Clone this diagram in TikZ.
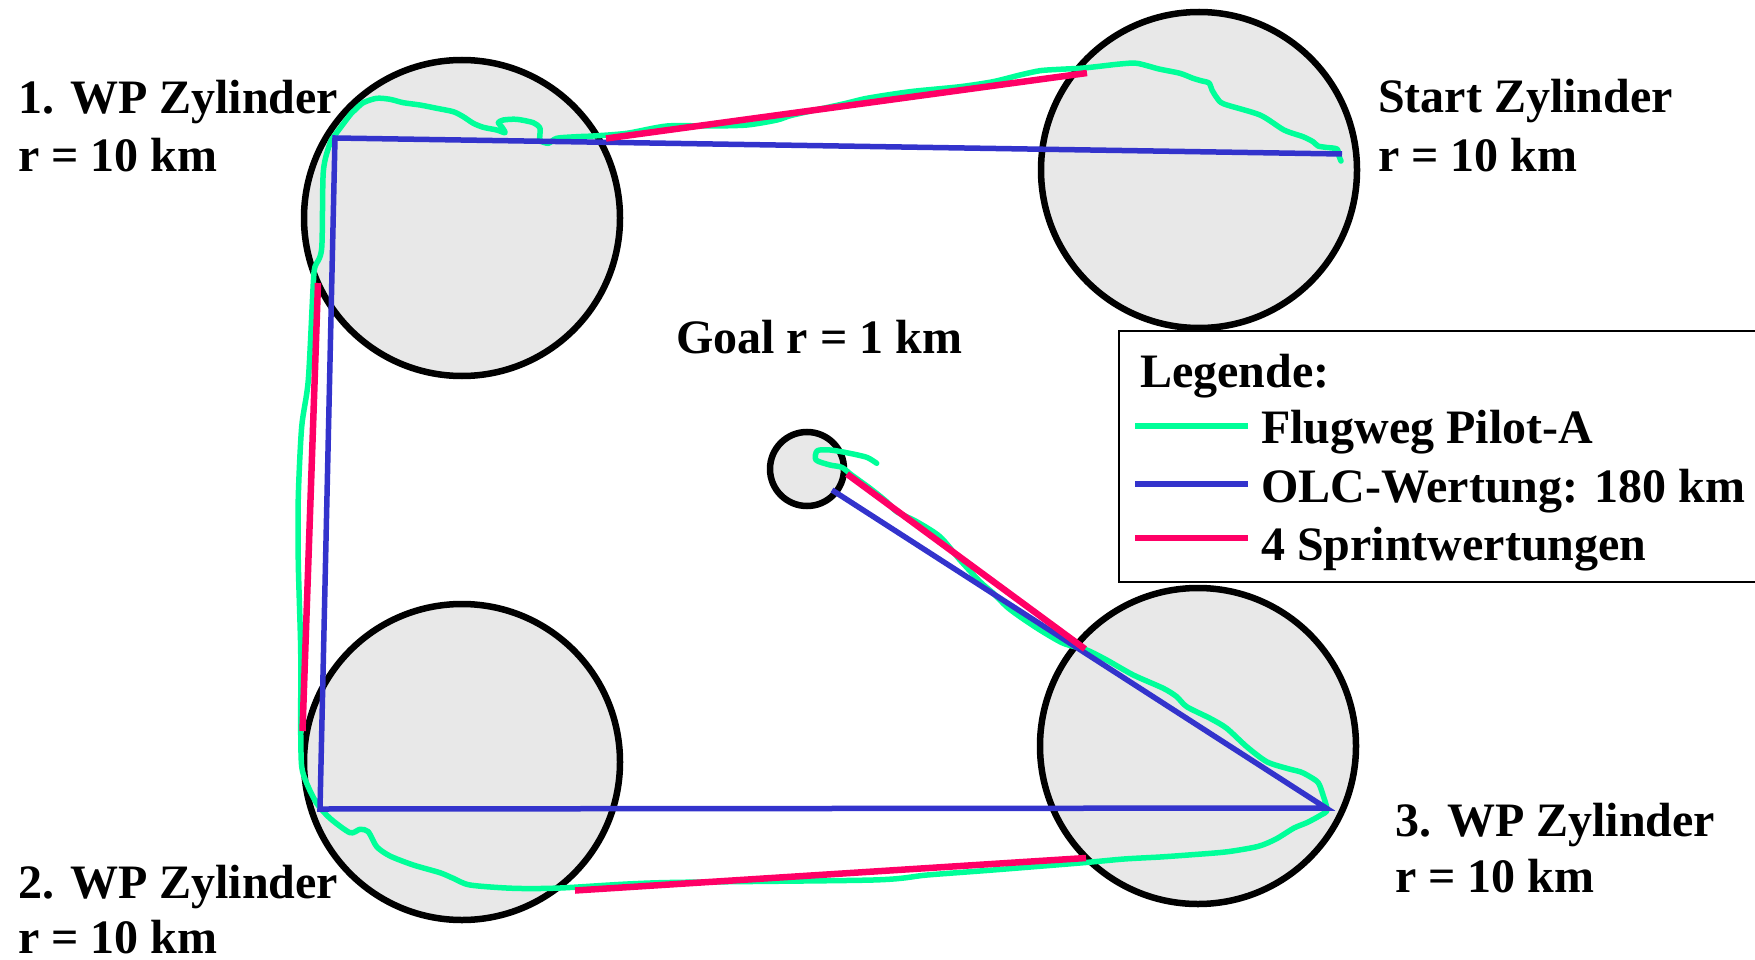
\documentclass[tikz,border=0pt]{standalone}
\usepackage{fontspec}
\setmainfont{Liberation Serif}
\definecolor{flug}{RGB}{0,255,153}
\definecolor{olc}{RGB}{51,51,204}
\definecolor{sprint}{RGB}{255,0,102}
\definecolor{cylfill}{RGB}{232,232,232}
\begin{document}
\begin{tikzpicture}[x=1pt,y=-1pt,
  cyl/.style={circle, draw=black, line width=6.5pt, fill=cylfill, inner sep=0pt},
  lab/.style={anchor=base west, inner sep=0pt, font=\fontsize{48}{58}\selectfont\bfseries},
  flugline/.style={draw=flug, line width=5.5pt, line join=round, line cap=round},
  olcline/.style={draw=olc, line width=5.5pt, line join=miter},
  sprintline/.style={draw=sprint, line width=6.5pt},
  legbox/.style={draw=black, line width=2.5pt}]
\useasboundingbox (0,0) rectangle (1755,960);

% cylinders
\node[cyl, minimum size=316pt] (wp1) at (462,218) {};
\node[cyl, minimum size=316pt] (start) at (1199,170) {};
\node[cyl, minimum size=316pt] (wp2) at (462,762) {};
\node[cyl, minimum size=316pt] (wp3) at (1198,746) {};
\node[cyl, minimum size=74pt] (goal) at (807,469) {};

% labels
\node[lab] (l1a) at (18,114) {1. WP Zylinder};
\node[lab] (l1b) at (18,172) {r = 10 km};
\node[lab] (lsa) at (1378,113) {Start Zylinder};
\node[lab] (lsb) at (1378,172) {r = 10 km};
\node[lab] (l2a) at (18,898) {2. WP Zylinder};
\node[lab] (l2b) at (18,953) {r = 10 km};
\node[lab] (l3a) at (1395,836) {3. WP Zylinder};
\node[lab] (l3b) at (1395,892) {r = 10 km};
\node[lab] (lgoal) at (676,353) {Goal r = 1 km};

% flight path (green)
\draw[flugline] plot[smooth, tension=0.45] coordinates {
 (1341,161) (1339,156) (1337,149) (1327,147.5) (1318,146) (1313,141.7) (1303,136.7)
 (1284,130) (1260,115) (1224,104) (1217,98) (1212,90) (1209,83) (1201,80.7)
 (1193,78.3) (1180,73.3) (1159,69) (1137,63.3) (1120,64) (1096,66.7) (1080,68.3)
 (1060,69.3) (1040,70.7) (1020,75) (993,81.7) (960,86.7) (910,91.7) (867,98.3)
 (843,104) (793,115) (777,120) (747,125) (710,126) (667,126) (627,133.3) (593,136)
 (576.7,136.7) (556.7,138.3) (548.3,143.3) (540,140) (540,128.3) (533.3,122.7)
 (516.7,119.3) (503.3,120) (498.3,122.7) (501.7,126.7) (505,132.7) (496.7,130)
 (483.3,127.3) (473.3,123.3) (463.3,116.7) (453.3,111.7) (436.7,108.3) (420,105)
 (403.3,102.7) (390,99.3) (376.7,98.3) (363.3,102.7) (355,110) (350,115) (335,135)
 (330,143.3) (323.3,171.7) (321.7,248.3) (315,266.7) (313.3,283.3) (308.3,380)
 (301.7,426.7) (298.3,496.7) (298.3,563.3) (300.7,650) (300.7,730) (301.7,766.7)
 (306.7,783.3) (316.7,803.3) (330,818.3) (350,832.7) (360,829.3) (368.3,831.7)
 (376.7,846.7) (390,856) (413.3,865) (440,872.7) (453.3,878.3) (470,885)
 (513.3,888.3) (560,888) (660,882.7) (873,880) (927,875) (993,870) (1080,863)
 (1124,859) (1160,857) (1191,854.8) (1227,851.8) (1258,846.4) (1276,839) (1294,828)
 (1307,822.6) (1320.5,815.3) (1327,810) (1323,795) (1318,782.4) (1307,775)
 (1300,771.7) (1286.7,768.3) (1266.7,761.7) (1246.7,746.7) (1226.7,728.3)
 (1210,718.3) (1186.7,706.7) (1176.7,696.7) (1163.3,688.3) (1133.3,675)
 (1106.7,660) (1086.7,650) (1063.3,643.3) (1040,630) (1020,616.7) (1006.7,606.7)
 (993.3,593.3) (980,581.7) (960,560) (940,536.7) (916.7,521.7) (896.7,511.7)
 (886.7,501.7) (870,488.3) (851.7,475) (841.7,467.3) (830,465) (816,460)
 (817.3,450.7) (830,450) (846.7,452.7) (866.7,457.3) (876.7,463.3)};

% OLC (blue)
\coordinate (oS) at (1342,154);
\coordinate (o1) at (335,138);
\coordinate (o2) at (320,809);
\coordinate (o3) at (1326,808);
\coordinate (oG) at (832,490);
\draw[olcline] (oS) -- (o1) -- (o2) -- (o3) -- (oG);

% sprints (red)
\coordinate (s1a) at (606,138.5);
\coordinate (s1b) at (1087,73);
\coordinate (s2a) at (318,283);
\coordinate (s2b) at (302.5,731);
\coordinate (s3a) at (575,890.5);
\coordinate (s3b) at (1086,858);
\coordinate (s4a) at (1085,649);
\coordinate (s4b) at (847,474);
\draw[sprintline] (s1a) -- (s1b);
\draw[sprintline] (s2a) -- (s2b);
\draw[sprintline] (s3a) -- (s3b);
\draw[sprintline] (s4a) -- (s4b);

% legend
\draw[legbox] (1755,331) -- (1119,331) -- (1119,582) -- (1755,582);
\node[lab] (leg) at (1140,387) {Legende:};
\coordinate (g1a) at (1135,426); \coordinate (g1b) at (1248,426);
\coordinate (g2a) at (1135,484); \coordinate (g2b) at (1248,484);
\coordinate (g3a) at (1135,538); \coordinate (g3b) at (1248,538);
\draw[draw=flug, line width=6pt] (g1a) -- (g1b);
\draw[draw=olc, line width=6pt] (g2a) -- (g2b);
\draw[draw=sprint, line width=6pt] (g3a) -- (g3b);
\node[lab] (t1) at (1261,443) {Flugweg Pilot-A};
\node[lab] (t2) at (1261,502) {OLC-Wertung: 180 km};
\node[lab] (t3) at (1261,560) {4 Sprintwertungen};
\end{tikzpicture}
\end{document}
